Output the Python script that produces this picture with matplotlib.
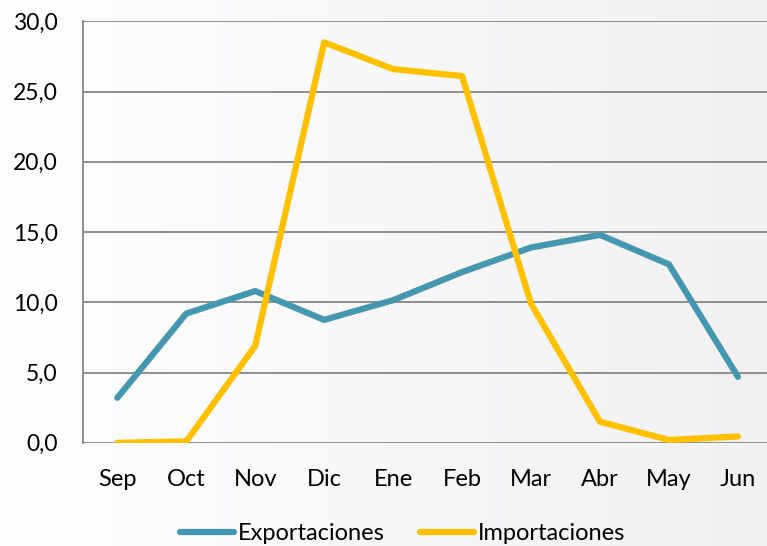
import numpy as np
import matplotlib.pyplot as plt
from matplotlib.ticker import FuncFormatter

months = ["Sep", "Oct", "Nov", "Dic", "Ene", "Feb", "Mar", "Abr", "May", "Jun"]
exportaciones = [3.2, 9.2, 10.8, 8.75, 10.15, 12.15, 13.9, 14.8, 12.7, 4.7]
importaciones = [0.0, 0.1, 6.9, 28.5, 26.6, 26.1, 9.9, 1.5, 0.2, 0.45]

plt.rcParams["font.family"] = ["Lato", "DejaVu Sans"]

fig = plt.figure(figsize=(7.67, 5.46), dpi=100)

# soft white-to-grey background across the whole figure
bg = fig.add_axes([0, 0, 1, 1], zorder=-10)
grad = np.linspace(1.0, 0.945, 256).reshape(1, -1)
bg.imshow(np.dstack([grad, grad, grad * 1.005]).clip(0, 1), aspect="auto", extent=[0, 1, 0, 1])
bg.axis("off")

ax = fig.add_axes([0.108, 0.189, 0.899, 0.772])
ax.patch.set_alpha(0)

x = np.arange(len(months))
ax.plot(x, exportaciones, color="#4397B0", lw=4.5, solid_capstyle="round", label="Exportaciones", zorder=3)
ax.plot(x, importaciones, color="#FFC000", lw=4.5, solid_capstyle="round", label="Importaciones", zorder=3)

ax.set_xlim(-0.5, len(months) - 0.5)
ax.set_ylim(0, 30)
ax.set_yticks(np.arange(0, 31, 5))
ax.yaxis.set_major_formatter(FuncFormatter(lambda v, p: f"{v:.1f}".replace(".", ",")))
ax.set_xticks(x)
ax.set_xticklabels(months)
ax.grid(axis="y", color="#868686", lw=1.3)
ax.set_axisbelow(True)

for side in ["top", "right", "bottom"]:
    ax.spines[side].set_visible(False)
ax.spines["left"].set_color("#868686")
ax.spines["left"].set_linewidth(1.3)
ax.tick_params(axis="both", length=0, colors="black")
ax.tick_params(axis="x", pad=19, labelsize=17)
ax.tick_params(axis="y", pad=18, labelsize=16.5)

fig.legend(loc="lower center", bbox_to_anchor=(0.525, -0.035), ncol=2, frameon=False,
           fontsize=17, handlelength=2.3, handletextpad=0.15, columnspacing=1.5)

fig.savefig("out.png", dpi=100)
